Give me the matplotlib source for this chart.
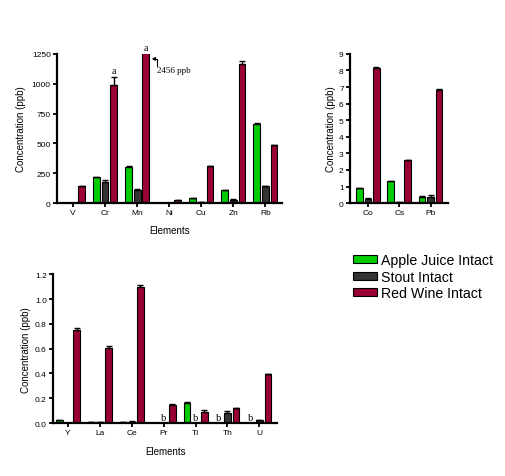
import numpy as np
import matplotlib
matplotlib.use("Agg")
import matplotlib.pyplot as plt

plt.rcParams['font.family'] = ['Liberation Sans', 'DejaVu Sans']

series = ["Apple Juice Intact", "Stout Intact", "Red Wine Intact"]
colors = ["#00cc00", "#333333", "#990033"]

# panel 1: major elements (ppb)
el1 = ["V", "Cr", "Mn", "Ni", "Cu", "Zn", "Rb"]
apple1 = [0, 215, 301, 0, 39, 106, 664]
stout1 = [0, 173, 114, 0, 11, 25, 140]
red1 = [140, 993, 2456, 28, 307, 1166, 491]
apple1_err = [0, 0, 6, 0, 0, 0, 8]
stout1_err = [0, 25, 6, 0, 0, 6, 0]
red1_err = [0, 65, 0, 0, 6, 28, 0]

# panel 2: Co, Cs, Pb (ppb)
el2 = ["Co", "Cs", "Pb"]
apple2 = [0.91, 1.31, 0.38]
stout2 = [0.26, 0.06, 0.40]
red2 = [8.13, 2.58, 6.81]
apple2_err = [0, 0.05, 0.05]
stout2_err = [0.05, 0, 0.12]
red2_err = [0.1, 0.05, 0.05]

# panel 3: trace elements (ppb)
el3 = ["Y", "La", "Ce", "Pr", "Tl", "Th", "U"]
apple3 = [0.021, 0.01, 0.01, 0, 0.161, 0, 0]
stout3 = [0.004, 0.01, 0.012, 0, 0, 0.081, 0.021]
red3 = [0.749, 0.604, 1.095, 0.148, 0.089, 0.118, 0.392]
apple3_err = [0, 0, 0, 0, 0.005, 0, 0]
stout3_err = [0, 0, 0.004, 0, 0, 0.02, 0]
red3_err = [0.02, 0.015, 0.02, 0.005, 0.015, 0, 0.005]
# "b" marks (series index, element index)
b_marks = [(1, 3), (1, 4), (0, 5), (0, 6)]

fig = plt.figure(figsize=(5.05, 4.77), dpi=100)

off = 0.27
w = 0.21


def panel(rect, names, vals, errs, ylim, yticks, xlim, fmt, pad):
    ax = fig.add_axes(rect)
    x = np.arange(len(names))
    for k in range(3):
        e = np.array(errs[k])
        ax.bar(x + (k - 1) * off, vals[k], w, color=colors[k], edgecolor="black",
               linewidth=0.8, label=series[k], zorder=2)
        ax.errorbar(x + (k - 1) * off, vals[k], yerr=[np.zeros(len(e)), e],
                    fmt="none", ecolor="black", elinewidth=1, capsize=2,
                    capthick=1, zorder=3)
    ax.set_xlim(*xlim)
    ax.set_ylim(*ylim)
    ax.set_yticks(yticks)
    ax.set_yticklabels([fmt.format(t) for t in yticks])
    ax.set_xticks(x)
    ax.set_xticklabels(names)
    for s in ["top", "right"]:
        ax.spines[s].set_visible(False)
    for s in ["left", "bottom"]:
        ax.spines[s].set_linewidth(1.6)
    ax.tick_params(axis="both", labelsize=6, width=1.3, length=3, pad=1.5)
    ax.set_ylabel("Concentration (ppb)", fontsize=7, labelpad=pad)
    return ax


ax1 = panel([0.113, 0.572, 0.446, 0.313], el1,
            [apple1, stout1, red1], [apple1_err, stout1_err, red1_err],
            (0, 1250), [0, 250, 500, 750, 1000, 1250], (-0.5, 6.53), "{:g}", 4)
ax1.set_xlabel("Elements", fontsize=7, labelpad=6)
ax1.text(1 + off, 1072, "a", family="Liberation Serif", fontsize=7,
         ha="center", va="bottom")
ax1.text(2 + off, 1262, "a", family="Liberation Serif", fontsize=7,
         ha="center", va="bottom", clip_on=False)
ax1.text(2.625, 1080, "2456 ppb", fontsize=6.5, family="Liberation Serif",
         ha="left", va="bottom")
ax1.annotate("", xy=(2.45, 1208), xytext=(2.62, 1150),
             arrowprops=dict(arrowstyle="-|>", color="black", lw=0.8,
                             mutation_scale=5,
                             connectionstyle="angle,angleA=90,angleB=0,rad=0",
                             shrinkA=0, shrinkB=0))

ax2 = panel([0.693, 0.572, 0.194, 0.313], el2,
            [apple2, stout2, red2], [apple2_err, stout2_err, red2_err],
            (0, 9), list(range(10)), (-0.57, 2.55), "{:g}", 2)

ax3 = panel([0.105, 0.111, 0.444, 0.312], el3,
            [apple3, stout3, red3], [apple3_err, stout3_err, red3_err],
            (0, 1.2), [0, 0.2, 0.4, 0.6, 0.8, 1.0, 1.2], (-0.47, 6.56), "{:.1f}", 3)
ax3.set_xlabel("Elements", fontsize=7, labelpad=7)
for k, i in b_marks:
    ax3.text(i + (k - 1) * off, 0.012, "b", family="Liberation Serif",
             fontsize=7.5, ha="center", va="bottom")

handles, labels = ax1.get_legend_handles_labels()
fig.legend(handles, labels, loc="upper left", bbox_to_anchor=(0.699, 0.4675),
           frameon=False, fontsize=10.2, handlelength=1.7, handleheight=0.5,
           handletextpad=0.28, labelspacing=0.19, borderpad=0, borderaxespad=0)

fig.savefig("out.png", dpi=100)
